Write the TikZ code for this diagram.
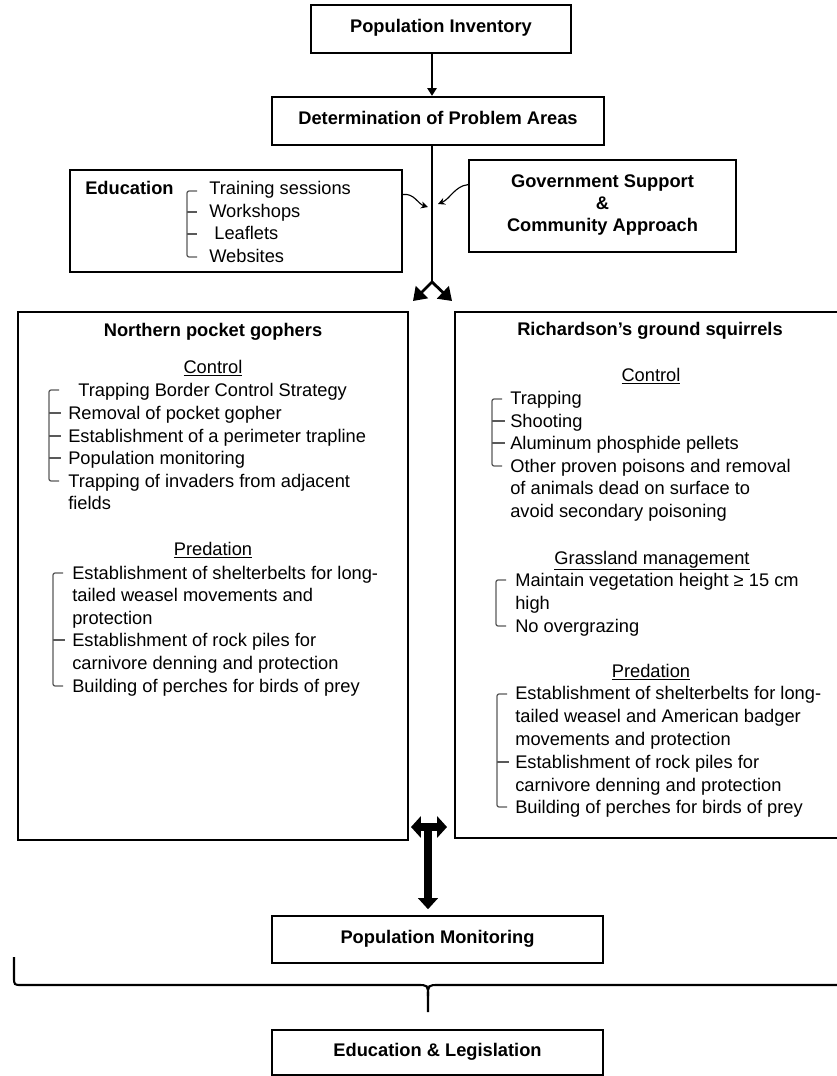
\documentclass[tikz,border=0pt]{standalone}
\usepackage{fontspec}
\setmainfont{Liberation Sans}
\usetikzlibrary{arrows.meta}

\tikzset{
  box/.style={draw,line width=1.6pt,inner sep=0pt,text depth=4pt,align=center,
    font=\fontsize{13}{15.5}\selectfont\bfseries},
  txt/.style={anchor=base west,inner sep=0pt},
  head/.style={anchor=base,inner sep=0pt},
  brk/.style={draw=black!65,line width=0.9pt,rounded corners=1.5pt},
  arr/.style={line width=1.4pt,-{Triangle[length=5.5pt,width=6.5pt]}},
  splitarr/.style={line width=2pt,-{Triangle[length=9pt,width=12pt]}},
  curvarr/.style={line width=0.8pt,-{Stealth[length=5pt,width=5pt]}},
  fatarr/.style={line width=5pt,-{Triangle[length=8pt,width=14pt]}},
}

\begin{document}
\begin{tikzpicture}[x=0.025cm,y=-0.025cm,font=\fontsize{13}{16}\selectfont]
     \def\px{0.025cm}
     \newcommand\listline[4]{%{name}{x}{y}{texte}
     \node[txt] (#1) at (#2,#3+6) {#4};
     }
     \newcommand\sidebrk[3]{%{x}{ytop}{ybottom}
     \draw[brk] (#1+10,#2) -- (#1,#2) -- (#1,#3) -- (#1+10,#3);
     }

     \useasboundingbox (0,0) rectangle (836,1076);

     % top of the chart
     \node[box,minimum width=260*\px,minimum height=48*\px] (inv) at (441,29) {Population Inventory};
     \node[box,minimum width=332*\px,minimum height=48*\px] (prob) at (438,121) {Determination of Problem Areas};
     \coordinate (spine) at (432,282);
     \coordinate (splitL) at (413,301);
     \coordinate (splitR) at (452,301);
     \draw[arr] (inv.south -| spine) -- (prob.north -| spine);
     \draw[line width=1.6pt] (prob.south -| spine) -- (spine);
     \draw[splitarr] (spine) -- (splitL);
     \draw[splitarr] (spine) -- (splitR);

     % education
     \node[box,minimum width=332*\px,minimum height=102*\px] (edu) at (236,221) {};
     \node[txt,font=\fontsize{13}{16}\selectfont\bfseries] (eduhead) at (85,195) {Education};
     \listline{ed1}{209}{189}{Training sessions}
     \listline{ed2}{209}{212}{Workshops}
     \listline{ed3}{209}{234}{\ Leaflets}
     \listline{ed4}{209}{257}{Websites}
     \sidebrk{187}{191}{257}
     \draw[brk] (187,212) -- ++(10,0);
     \draw[brk] (187,234) -- ++(10,0);

     % government
     \node[box,minimum width=267*\px,minimum height=92*\px] (gov) at (602.5,206) {Government Support\\\&\\Community Approach};

     \coordinate (eduin) at (428,207);
     \coordinate (govin) at (438,204);
     \draw[curvarr] (edu.9) .. controls (414,193) and (418,204) .. (eduin);
     \draw[curvarr] (gov.171) .. controls (455,186) and (450,199) .. (govin);

     % northern pocket gophers
     \node[box,minimum width=390*\px,minimum height=528*\px] (gopher) at (213,576) {};
     \node[head,font=\fontsize{13}{16}\selectfont\bfseries] (gtitle) at (213,336) {Northern pocket gophers};
     \node[head] (gcontrol) at (213,373) {\underline{Control}};
     \listline{lc1}{78}{390}{Trapping Border Control Strategy}
     \listline{lc2}{68}{413}{Removal of pocket gopher}
     \listline{lc3}{68}{436}{Establishment of a perimeter trapline}
     \listline{lc4}{68}{458}{Population monitoring}
     \listline{lc5}{68}{481}{Trapping of invaders from adjacent}
     \listline{lc6}{68}{503}{fields}
     \sidebrk{49}{390}{481}
     \draw[brk] (49,413) -- ++(12,0);
     \draw[brk] (49,436) -- ++(12,0);
     \draw[brk] (49,458) -- ++(12,0);

     \node[head] (gpred) at (213,555) {\underline{Predation}};
     \listline{lp1}{72}{573}{Establishment of shelterbelts for long-}
     \listline{lp2}{72}{595}{tailed weasel movements and}
     \listline{lp3}{72}{618}{protection}
     \listline{lp4}{72}{640}{Establishment of rock piles for}
     \listline{lp5}{72}{663}{carnivore denning and protection}
     \listline{lp6}{72}{686}{Building of perches for birds of prey}
     \sidebrk{53}{573}{686}
     \draw[brk] (53,640) -- ++(12,0);

     % richardson's ground squirrels
     \node[box,minimum width=400*\px,minimum height=526*\px] (squirrel) at (655,575) {};
     \node[head,font=\fontsize{13}{16}\selectfont\bfseries] (stitle) at (650,335) {Richardson’s ground squirrels};
     \node[head] (scontrol) at (651,381) {\underline{Control}};
     \listline{rc1}{510}{398}{Trapping}
     \listline{rc2}{510}{421}{Shooting}
     \listline{rc3}{510}{443}{Aluminum phosphide pellets}
     \listline{rc4}{510}{466}{Other proven poisons and removal}
     \listline{rc5}{510}{488}{of animals dead on surface to}
     \listline{rc6}{510}{511}{avoid secondary poisoning}
     \sidebrk{492}{399}{466}
     \draw[brk] (492,421) -- ++(13,0);
     \draw[brk] (492,443) -- ++(13,0);

     \node[head] (sgrass) at (652,564) {\underline{Grassland management}};
     \listline{rg1}{515}{580}{Maintain vegetation height ≥ 15 cm}
     \listline{rg2}{515}{603}{high}
     \listline{rg3}{515}{626}{No overgrazing}
     \sidebrk{496}{580}{626}

     \node[head] (spred) at (651,677) {\underline{Predation}};
     \listline{rp1}{515}{693}{Establishment of shelterbelts for long-}
     \listline{rp2}{515}{716}{tailed weasel and American badger}
     \listline{rp3}{515}{739}{movements and protection}
     \listline{rp4}{515}{762}{Establishment of rock piles for}
     \listline{rp5}{515}{785}{carnivore denning and protection}
     \listline{rp6}{515}{807}{Building of perches for birds of prey}
     \sidebrk{497}{694}{807}
     \draw[brk] (497,762) -- ++(12,0);

     % monitoring
     \node[box,minimum width=331*\px,minimum height=47*\px] (mon) at (437.5,939.5) {Population Monitoring};
     \coordinate (hub) at (428,827);
     \coordinate (hubL) at (411,827);
     \coordinate (hubR) at (447,827);
     \draw[line width=5pt,{Triangle[length=7pt,width=15pt]}-{Triangle[length=7pt,width=15pt]}] (hubL) -- (hubR);
     \draw[fatarr,shorten >=4pt] (hub) -- (mon.north -| hub);

     % brace and last box
     \draw[line width=1.5pt] (14,957) -- (14,977) .. controls (14,985) .. (22,985) -- (417,985)
        .. controls (428,985) .. (428,996) -- (428,1012);
     \draw[line width=1.5pt] (428,996) .. controls (428,985) .. (439,985) -- (850,985);
     \node[box,minimum width=331*\px,minimum height=45*\px] (leg) at (437.5,1052.5) {Education \& Legislation};
\end{tikzpicture}
\end{document}
